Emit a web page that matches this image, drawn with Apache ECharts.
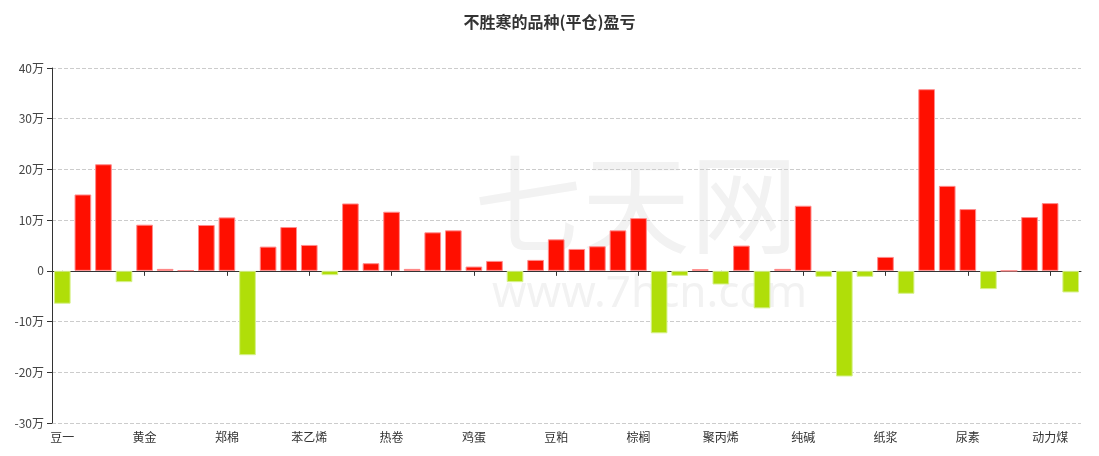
<!DOCTYPE html>
<html>
<head>
<meta charset="utf-8">
<script src="https://cdn.jsdelivr.net/npm/echarts@6/dist/echarts.min.js"></script>
<style>html,body{margin:0;padding:0;background:#fff;}#c{width:1099px;height:456px;}</style>
</head>
<body>
<div id="c"></div>
<script>
const categories = ['豆一','沪铜','螺纹钢','白银','黄金','沪铝','沪锌','沪镍','郑棉','白糖','菜粕','甲醇','苯乙烯','PTA','玻璃','铁矿石','热卷','焦炭','焦煤','玉米','鸡蛋','淀粉','豆二','豆油','豆粕','菜油','苹果','红枣','棕榈','塑料','PVC','乙二醇','聚丙烯','燃油','沥青','橡胶','纯碱','硅铁','锰硅','不锈钢','纸浆','原油','沪锡','花生','尿素','短纤','LPG','生猪','动力煤','线材'];
// profit/loss in yuan
const values = [-64800,150600,210200,-22300,91000,3900,1000,90400,105400,-166300,47800,86400,51100,-8500,132900,15100,116600,3900,76000,79900,8500,19600,-22300,21600,62200,43200,48500,79900,104100,-123100,-9800,3300,-26900,49800,-74000,3900,128400,-11800,-208300,-11800,27500,-45200,358200,167600,121800,-36000,0,106100,133600,-42600];
const yTicks = {min:-300000, max:400000, interval:100000};
const title = '不胜寒的品种(平仓)盈亏';

const chart = echarts.init(document.getElementById('c'));
chart.setOption({
  animation:false,
  backgroundColor:'#fff',
  title:{text:title,left:'center',top:9,textStyle:{fontFamily:'Noto Sans CJK SC',fontSize:16,fontWeight:'bold',color:'#333'}},
  graphic:[
    {type:'text',z:-10,left:474,top:150,style:{text:'七天网',fontFamily:'Noto Sans CJK SC',fontSize:108,fill:'#f2f2f2'}},
    {type:'text',z:-10,left:492,top:272,style:{text:'www.7hcn.com',fontFamily:'Noto Sans',fontSize:44,fill:'#f2f2f2'}}
  ],
  grid:{left:52,right:18,top:68,bottom:33,containLabel:false},
  xAxis:[
    {type:'category',data:categories,position:'bottom',
     axisLine:{show:false,onZero:false},axisTick:{show:false},
     axisLabel:{interval:3,color:'#333',fontSize:12,fontFamily:'Noto Sans CJK SC',margin:8}},
    {type:'category',data:categories,position:'bottom',
     axisLine:{show:true,onZero:true,lineStyle:{color:'#333',width:1}},
     axisTick:{show:true,interval:3,alignWithLabel:true,length:5,lineStyle:{color:'#333'}},
     axisLabel:{show:false}}
  ],
  yAxis:{type:'value',min:yTicks.min,max:yTicks.max,interval:yTicks.interval,
    axisLine:{show:true,lineStyle:{color:'#333'}},
    axisTick:{show:true,length:5,lineStyle:{color:'#333'}},
    axisLabel:{color:'#444',fontSize:12,fontFamily:'Noto Sans CJK SC',
      formatter:v=>v===0?'0':(v/10000)+'万'},
    splitLine:{show:true,lineStyle:{type:'dashed',color:'#ccc'}}},
  series:[{
    type:'bar',xAxisIndex:0,
    barCategoryGap:'19%',
    data:values.map(v=>({value:v,itemStyle:{
      color:v>=0?'#ff0f00':'#b0de09',
      borderColor:v>=0?'rgba(255,140,140,1)':'rgba(214,240,140,1)',
      borderWidth:1}}))
  }]
});
</script>
</body>
</html>
